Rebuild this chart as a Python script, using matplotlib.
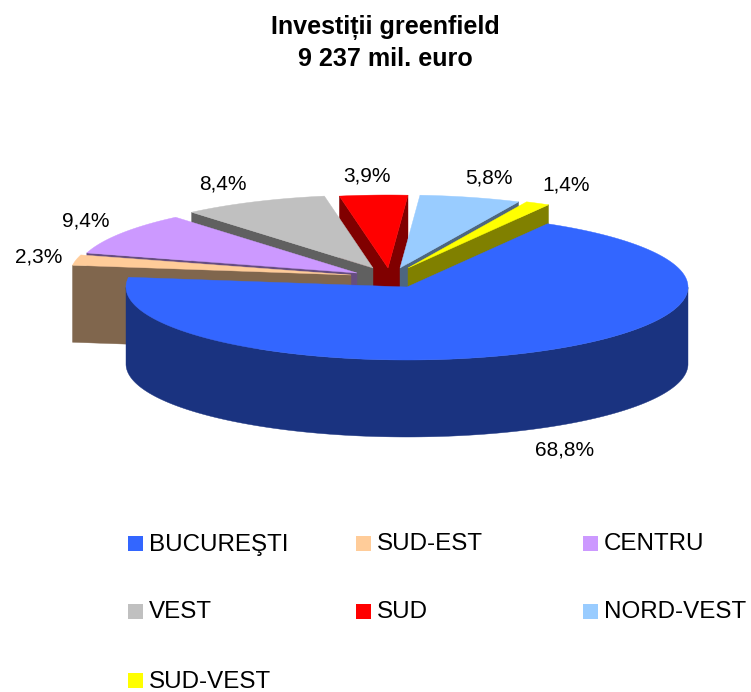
import numpy as np
import matplotlib
matplotlib.use("Agg")
import matplotlib.pyplot as plt
from matplotlib.patches import Polygon, Rectangle

plt.rcParams['font.family'] = ['Liberation Sans', 'DejaVu Sans']

categories = ["BUCUREŞTI", "SUD-EST", "CENTRU", "VEST", "SUD", "NORD-VEST", "SUD-VEST"]
values = [68.8, 2.3, 9.4, 8.4, 3.9, 5.8, 1.4]
value_labels = ["68,8%", "2,3%", "9,4%", "8,4%", "3,9%", "5,8%", "1,4%"]
colors = ["#3366FF", "#FFCC99", "#CC99FF", "#C0C0C0", "#FF0000", "#99CCFF", "#FFFF00"]
title_lines = ["Investiții greenfield", "9 237 mil. euro"]

# layout (pixels of the figure)
W, H = 751, 692
RX, RY, DEPTH = 281, 73, 77
START = 60.0
tips = [(407, 287), (351, 275), (357, 273), (373, 268), (388, 268), (400, 268), (408, 268)]
label_pos = [(565, 450), (39, 257), (86, 221), (223, 184), (367, 176), (489, 178), (566, 185)]
title_pos = [(385, 28), (385, 59)]
paint_order = [4, 3, 2, 1, 5, 6, 0]
legend_x = [128, 356, 583]
legend_y = [543, 611, 680]
LEG_SIZE = 15

fig = plt.figure(figsize=(W / 100, H / 100), dpi=100)
ax = fig.add_axes([0, 0, 1, 1])
ax.set_xlim(0, W)
ax.set_ylim(H, 0)
ax.axis("off")

total = sum(values)
sweeps = [v / total * 360 for v in values]
ang = START
spans = []
for s in sweeps:
    spans.append((ang - s, ang))   # (clockwise end, counter-clockwise end)
    ang -= s


def pt(tip, t, dz=0.0):
    r = np.radians(t)
    return (tip[0] + RX * np.cos(r), tip[1] - RY * np.sin(r) + dz)


def shade(c):
    rgb = np.array(matplotlib.colors.to_rgb(c))
    return tuple(rgb * 0.5)


def poly(points, color):
    ax.add_patch(Polygon(points, closed=True, facecolor=color, edgecolor=color, linewidth=0.3))


for i in paint_order:
    tip = tips[i]
    lo, hi = spans[i]
    side = shade(colors[i])
    # flat cut faces, when they look toward the viewer
    for t, normal in ((hi, hi + 90), (lo, lo - 90)):
        if np.sin(np.radians(normal)) < 0:
            poly([tip, pt(tip, t), pt(tip, t, DEPTH), (tip[0], tip[1] + DEPTH)], side)
    # rim: the part of the arc on the near half of the ellipse
    ts = np.linspace(lo, hi, 400)
    near = ts[np.sin(np.radians(ts)) < 0]
    if len(near):
        rim = [pt(tip, t) for t in near] + [pt(tip, t, DEPTH) for t in near[::-1]]
        poly(rim, side)
    # top surface
    poly([tip] + [pt(tip, t) for t in ts], colors[i])

for lab, (x, y) in zip(value_labels, label_pos):
    ax.text(x, y, lab, ha="center", va="center", fontsize=15, color="black")

for line, (x, y) in zip(title_lines, title_pos):
    ax.text(x, y, line, ha="center", va="center", fontsize=18.1, fontweight="bold", color="black")

for k, (cat, c) in enumerate(zip(categories, colors)):
    col, row = k % 3, k // 3
    x, y = legend_x[col], legend_y[row]
    ax.add_patch(Rectangle((x, y - LEG_SIZE / 2), LEG_SIZE, LEG_SIZE, facecolor=c, edgecolor="none"))
    ax.text(x + 21, y + 1.5, cat, ha="left", va="center", fontsize=17.4, color="black")

fig.savefig("out.png", dpi=100)
